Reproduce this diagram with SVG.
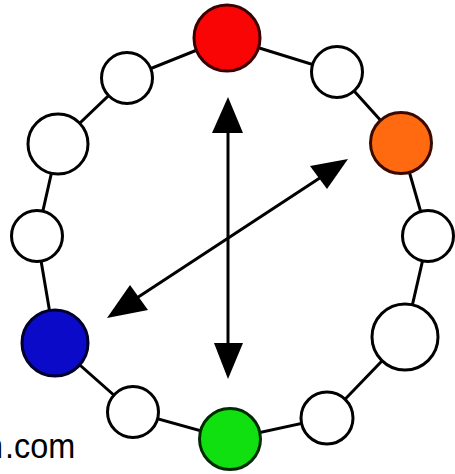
<svg xmlns="http://www.w3.org/2000/svg" width="455" height="474" viewBox="0 0 455 474">
<style>
.ring{stroke:#000;stroke-width:3;fill:none}
.node{stroke-width:3}
.w{fill:#fff;stroke:#000}
.arr{stroke:#000;stroke-width:3}
.head{fill:#000}
.t{font-family:"Liberation Sans",Arial,sans-serif;font-size:36px;fill:#000}
</style>
<rect width="455" height="474" fill="#fff"/>
<g id="connectors">
<polyline class="ring" points="227,38 337,72 401,143 428,237 405,337 327,418 230,439 133,412 55,343 37,237 58,144 127,78 227,38"/>
<line class="arr" x1="228" y1="128" x2="228" y2="348"/>
<polygon class="head" points="228,97 243,133 212,133"/>
<polygon class="head" points="228,379 243,343 214,343"/>
<line class="arr" x1="335" y1="168" x2="120" y2="309"/>
<polygon class="head" points="348,159 310,166 327,189"/>
<polygon class="head" points="107,318 130,285 148,310"/>
</g>
<g id="n-red"><circle class="node" cx="227" cy="38" r="33" fill="#fa0505" stroke="#3a0000"/></g>
<g id="n-w1"><circle class="node w" cx="337" cy="72" r="25.5"/></g>
<g id="n-orange"><circle class="node" cx="401" cy="143" r="30.5" fill="#ff6a10" stroke="#3a0a00"/></g>
<g id="n-w2"><circle class="node w" cx="428" cy="236" r="25.5"/></g>
<g id="n-w3"><circle class="node w" cx="405" cy="337" r="33"/></g>
<g id="n-w4"><circle class="node w" cx="327" cy="418" r="26"/></g>
<g id="n-green"><circle class="node" cx="230" cy="439" r="30.5" fill="#10e010" stroke="#002a00"/></g>
<g id="n-w5"><circle class="node w" cx="133" cy="412" r="25.5"/></g>
<g id="n-blue"><circle class="node" cx="55" cy="343" r="33" fill="#0a0ac8" stroke="#00002a"/></g>
<g id="n-w6"><circle class="node w" cx="37" cy="236" r="25.5"/></g>
<g id="n-w7"><circle class="node w" cx="58" cy="144" r="30"/></g>
<g id="n-w8"><circle class="node w" cx="127" cy="78" r="25.5"/></g>
<text class="t" transform="translate(0,458) scale(0.9,1)" x="-16.7 5.6">n.com</text>
</svg>
